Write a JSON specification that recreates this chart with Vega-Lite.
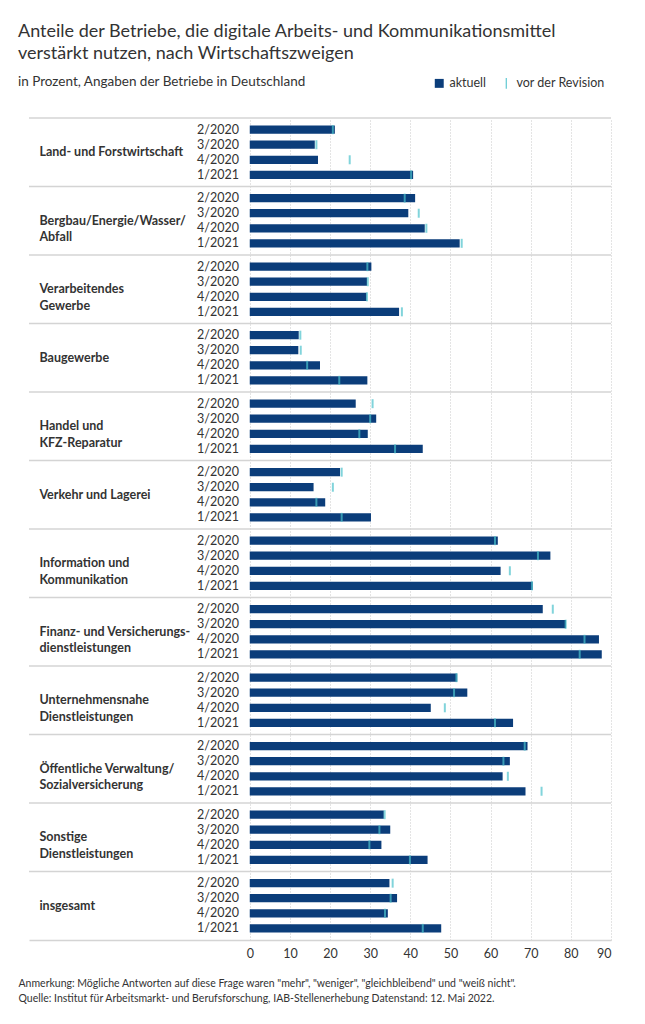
{
  "$schema": "https://vega.github.io/schema/vega-lite/v6.json",
  "width": 582,
  "height": 822,
  "autosize": {"type": "none"},
  "padding": {"left": 29, "top": 118, "right": 34, "bottom": 84},
  "title": {
    "text": ["Anteile der Betriebe, die digitale Arbeits- und Kommunikationsmittel", "verstärkt nutzen, nach Wirtschaftszweigen"],
    "subtitle": "in Prozent, Angaben der Betriebe in Deutschland",
    "anchor": "start",
    "dx": 0,
    "fontSize": 18,
    "fontWeight": "normal",
    "lineHeight": 22,
    "color": "#333333",
    "subtitleFontSize": 13.5,
    "subtitleColor": "#333333",
    "subtitlePadding": 12,
    "offset": -11
  },
  "datasets": {
    "bars": [
      {"g": "Land- und Forstwirtschaft", "p": "2/2020", "v": 21.2, "r": 20.7},
      {"g": "Land- und Forstwirtschaft", "p": "3/2020", "v": 16.2, "r": 16.6},
      {"g": "Land- und Forstwirtschaft", "p": "4/2020", "v": 17.0, "r": 24.9},
      {"g": "Land- und Forstwirtschaft", "p": "1/2021", "v": 40.7, "r": 40.2},
      {"g": "Bergbau/Energie/Wasser/\nAbfall", "p": "2/2020", "v": 41.2, "r": 38.6},
      {"g": "Bergbau/Energie/Wasser/\nAbfall", "p": "3/2020", "v": 39.5, "r": 42.1},
      {"g": "Bergbau/Energie/Wasser/\nAbfall", "p": "4/2020", "v": 43.6, "r": 44.0},
      {"g": "Bergbau/Energie/Wasser/\nAbfall", "p": "1/2021", "v": 52.3, "r": 52.8},
      {"g": "Verarbeitendes\nGewerbe", "p": "2/2020", "v": 30.3, "r": 29.3},
      {"g": "Verarbeitendes\nGewerbe", "p": "3/2020", "v": 29.2, "r": 29.4},
      {"g": "Verarbeitendes\nGewerbe", "p": "4/2020", "v": 29.1, "r": 29.2},
      {"g": "Verarbeitendes\nGewerbe", "p": "1/2021", "v": 37.2, "r": 37.9},
      {"g": "Baugewerbe", "p": "2/2020", "v": 12.2, "r": 12.6},
      {"g": "Baugewerbe", "p": "3/2020", "v": 12.1, "r": 12.7},
      {"g": "Baugewerbe", "p": "4/2020", "v": 17.5, "r": 14.3},
      {"g": "Baugewerbe", "p": "1/2021", "v": 29.3, "r": 22.3},
      {"g": "Handel und\nKFZ-Reparatur", "p": "2/2020", "v": 26.4, "r": 30.6},
      {"g": "Handel und\nKFZ-Reparatur", "p": "3/2020", "v": 31.5, "r": 30.0},
      {"g": "Handel und\nKFZ-Reparatur", "p": "4/2020", "v": 29.4, "r": 27.3},
      {"g": "Handel und\nKFZ-Reparatur", "p": "1/2021", "v": 43.1, "r": 36.2},
      {"g": "Verkehr und Lagerei", "p": "2/2020", "v": 22.5, "r": 22.9},
      {"g": "Verkehr und Lagerei", "p": "3/2020", "v": 15.9, "r": 20.7},
      {"g": "Verkehr und Lagerei", "p": "4/2020", "v": 18.8, "r": 16.6},
      {"g": "Verkehr und Lagerei", "p": "1/2021", "v": 30.2, "r": 22.9},
      {"g": "Information und\nKommunikation", "p": "2/2020", "v": 61.8, "r": 61.1},
      {"g": "Information und\nKommunikation", "p": "3/2020", "v": 74.9, "r": 71.8},
      {"g": "Information und\nKommunikation", "p": "4/2020", "v": 62.5, "r": 64.8},
      {"g": "Information und\nKommunikation", "p": "1/2021", "v": 70.5, "r": 70.3},
      {"g": "Finanz- und Versicherungs-\ndienstleistungen", "p": "2/2020", "v": 73.0, "r": 75.5},
      {"g": "Finanz- und Versicherungs-\ndienstleistungen", "p": "3/2020", "v": 78.8, "r": 78.7},
      {"g": "Finanz- und Versicherungs-\ndienstleistungen", "p": "4/2020", "v": 87.0, "r": 83.4},
      {"g": "Finanz- und Versicherungs-\ndienstleistungen", "p": "1/2021", "v": 87.7, "r": 82.2},
      {"g": "Unternehmensnahe\nDienstleistungen", "p": "2/2020", "v": 51.7, "r": 51.5},
      {"g": "Unternehmensnahe\nDienstleistungen", "p": "3/2020", "v": 54.2, "r": 50.9},
      {"g": "Unternehmensnahe\nDienstleistungen", "p": "4/2020", "v": 45.1, "r": 48.6},
      {"g": "Unternehmensnahe\nDienstleistungen", "p": "1/2021", "v": 65.6, "r": 61.1},
      {"g": "Öffentliche Verwaltung/\nSozialversicherung", "p": "2/2020", "v": 69.2, "r": 68.5},
      {"g": "Öffentliche Verwaltung/\nSozialversicherung", "p": "3/2020", "v": 64.8, "r": 63.2},
      {"g": "Öffentliche Verwaltung/\nSozialversicherung", "p": "4/2020", "v": 63.0, "r": 64.3},
      {"g": "Öffentliche Verwaltung/\nSozialversicherung", "p": "1/2021", "v": 68.7, "r": 72.7},
      {"g": "Sonstige\nDienstleistungen", "p": "2/2020", "v": 33.4, "r": 33.6},
      {"g": "Sonstige\nDienstleistungen", "p": "3/2020", "v": 35.0, "r": 32.3},
      {"g": "Sonstige\nDienstleistungen", "p": "4/2020", "v": 32.8, "r": 29.8},
      {"g": "Sonstige\nDienstleistungen", "p": "1/2021", "v": 44.3, "r": 39.9},
      {"g": "insgesamt", "p": "2/2020", "v": 34.8, "r": 35.6},
      {"g": "insgesamt", "p": "3/2020", "v": 36.7, "r": 35.1},
      {"g": "insgesamt", "p": "4/2020", "v": 34.4, "r": 33.7},
      {"g": "insgesamt", "p": "1/2021", "v": 47.7, "r": 43.1}
    ],
    "groups": [
      {"g": "Land- und Forstwirtschaft"},
      {"g": "Bergbau/Energie/Wasser/\nAbfall"},
      {"g": "Verarbeitendes\nGewerbe"},
      {"g": "Baugewerbe"},
      {"g": "Handel und\nKFZ-Reparatur"},
      {"g": "Verkehr und Lagerei"},
      {"g": "Information und\nKommunikation"},
      {"g": "Finanz- und Versicherungs-\ndienstleistungen"},
      {"g": "Unternehmensnahe\nDienstleistungen"},
      {"g": "Öffentliche Verwaltung/\nSozialversicherung"},
      {"g": "Sonstige\nDienstleistungen"},
      {"g": "insgesamt"}
    ]
  },
  "encoding": {
    "y": {
      "field": "g",
      "type": "nominal",
      "sort": null,
      "scale": {"paddingInner": 0, "paddingOuter": 0},
      "axis": null
    }
  },
  "layer": [
    {
      "data": {"name": "groups"},
      "mark": {"type": "rule", "color": "#d4d4d4", "strokeWidth": 1.5},
      "encoding": {
        "y": {"field": "g", "type": "nominal", "sort": null, "bandPosition": 0}
      }
    },
    {
      "data": {"name": "groups"},
      "mark": {"type": "text", "align": "left", "baseline": "middle", "fontSize": 12.5, "fontWeight": "bold", "color": "#333333", "lineBreak": "\n", "lineHeight": 16.5},
      "encoding": {
        "x": {"datum": -52.4},
        "text": {"field": "g"}
      }
    },
    {
      "data": {"name": "bars"},
      "mark": {"type": "bar"},
      "encoding": {
        "x": {
          "field": "v",
          "type": "quantitative",
          "scale": {"domain": [-55, 90], "nice": false},
          "axis": {
            "values": [0, 10, 20, 30, 40, 50, 60, 70, 80, 90],
            "grid": true,
            "gridDash": [1, 2],
            "gridColor": "#c8c8c8",
            "ticks": false,
            "domainColor": "#d4d4d4",
            "domainWidth": 1.5,
            "labelFontSize": 12.5,
            "labelColor": "#333333",
            "labelPadding": 7,
            "title": ["Anmerkung: Mögliche Antworten auf diese Frage waren \"mehr\", \"weniger\", \"gleichbleibend\" und \"weiß nicht\".", "Quelle: Institut für Arbeitsmarkt- und Berufsforschung, IAB-Stellenerhebung Datenstand: 12. Mai 2022."],
            "titleFontSize": 10.5,
            "titleFontWeight": "normal",
            "titleColor": "#333333",
            "titleAnchor": "start",
            "titleAlign": "left",
            "titleX": -11,
            "titleLineHeight": 15,
            "titlePadding": 19
          }
        },
        "yOffset": {
          "field": "p",
          "type": "nominal",
          "sort": null,
          "scale": {"paddingInner": 0.45, "paddingOuter": 0.5}
        },
        "color": {
          "datum": "aktuell",
          "scale": {"domain": ["aktuell", "vor der Revision"], "range": ["#0b3d7a", "#4cc2cc"]},
          "legend": {
            "orient": "none",
            "legendX": 404,
            "legendY": -41,
            "direction": "horizontal",
            "title": null,
            "labelFontSize": 12.5,
            "labelColor": "#333333",
            "labelOffset": 4,
            "columnPadding": 13,
            "symbolSize": 80,
            "encode": {
              "symbols": {
                "update": {
                  "shape": {"signal": "datum.value === 'aktuell' ? 'square' : 'M-0.12,-1.2H0.12V1.2H-0.12Z'"},
                  "strokeWidth": {"value": 0}
                }
              }
            }
          }
        }
      }
    },
    {
      "data": {"name": "bars"},
      "mark": {"type": "tick", "orient": "vertical", "thickness": 2, "size": 9},
      "encoding": {
        "x": {"field": "r", "type": "quantitative"},
        "yOffset": {"field": "p", "type": "nominal", "sort": null},
        "color": {"datum": "vor der Revision"}
      }
    },
    {
      "data": {"name": "bars"},
      "mark": {"type": "text", "align": "right", "baseline": "middle", "fontSize": 12.5, "color": "#333333"},
      "encoding": {
        "x": {"datum": -2.7},
        "yOffset": {"field": "p", "type": "nominal", "sort": null},
        "text": {"field": "p"}
      }
    }
  ],
  "config": {
    "font": "Lato",
    "view": {"stroke": null},
    "background": "#ffffff"
  }
}
